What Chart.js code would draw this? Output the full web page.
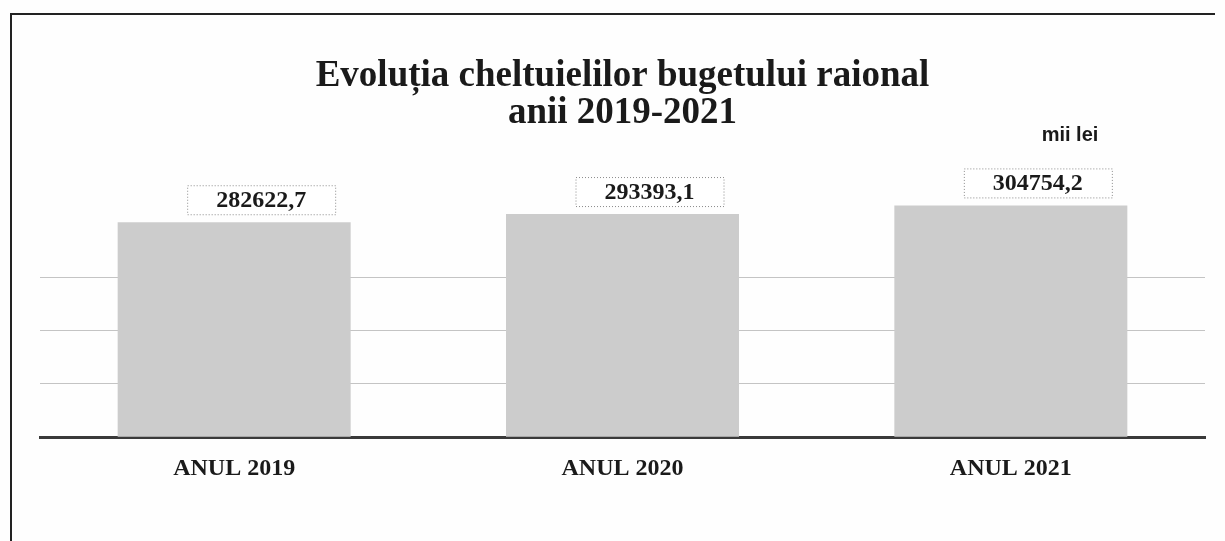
<!DOCTYPE html>
<html>
<head>
<meta charset="utf-8">
<title>Evoluția cheltuielilor bugetului raional</title>
<script src="https://cdn.jsdelivr.net/npm/chart.js@4/dist/chart.umd.min.js"></script>
<style>
    html, body { margin: 0; padding: 0; background: #fefefe; }
    #wrap { width: 1225px; height: 541px; position: relative; }
</style>
</head>
<body>
<div id="wrap"><canvas id="budgetChart" width="1225" height="541"></canvas></div>
<script>
// data (mii lei)
const categories = ['ANUL 2019', 'ANUL 2020', 'ANUL 2021'];
const expenses = [282622.7, 293393.1, 304754.2];
const titleLines = ['Evoluția cheltuielilor bugetului raional', 'anii 2019-2021'];
const unitLabel = 'mii lei';
const yMax = 350000;
const yStep = 70000;

function formatValue(v) {
    return v.toFixed(1).replace('.', ',');
}

// boxed value labels above the bars + page frame + unit note
const decorPlugin = {
    id: 'decor',
    afterDatasetsDraw(chart) {
        const ctx = chart.ctx;
        const meta = chart.getDatasetMeta(0);
        ctx.save();
        ctx.font = 'bold 24px "Liberation Serif", "Times New Roman", serif';
        ctx.textAlign = 'center';
        ctx.textBaseline = 'middle';
        meta.data.forEach((bar, i) => {
            const text = formatValue(expenses[i]);
            const w = ctx.measureText(text).width + 58;
            const h = 29;
            const cx = bar.x + 27;
            const bottom = bar.y - 8;
            ctx.fillStyle = '#ffffff';
            ctx.fillRect(cx - w / 2, bottom - h, w, h);
            ctx.setLineDash([1, 2]);
            ctx.strokeStyle = '#8a8a8a';
            ctx.lineWidth = 1;
            ctx.strokeRect(cx - w / 2 + 0.5, bottom - h + 0.5, w, h);
            ctx.setLineDash([]);
            ctx.fillStyle = '#1a1a1a';
            ctx.fillText(text, cx, bottom - h / 2 + 1);
        });
        ctx.restore();
    },
    afterDraw(chart) {
        const ctx = chart.ctx;
        ctx.save();
        ctx.font = 'bold 20px "Liberation Sans Narrow", "Liberation Sans", Arial, sans-serif';
        ctx.fillStyle = '#1a1a1a';
        ctx.textAlign = 'center';
        ctx.textBaseline = 'middle';
        ctx.fillText(unitLabel, 1070, 135);
        ctx.strokeStyle = '#222222';
        ctx.lineWidth = 2;
        ctx.beginPath();
        ctx.moveTo(1215, 14);
        ctx.lineTo(11, 14);
        ctx.lineTo(11, 541);
        ctx.stroke();
        ctx.restore();
    }
};

const ctx = document.getElementById('budgetChart').getContext('2d');
new Chart(ctx, {
    type: 'bar',
    data: {
        labels: categories,
        datasets: [{
            label: 'Cheltuieli',
            data: expenses,
            backgroundColor: '#cccccc',
            borderWidth: 0,
            barPercentage: 0.6,
            categoryPercentage: 1
        }]
    },
    options: {
        responsive: false,
        animation: false,
        devicePixelRatio: 1,
        layout: {
            padding: { left: 40, right: 20, top: 0, bottom: 41 }
        },
        plugins: {
            legend: { display: false },
            tooltip: { enabled: false },
            title: {
                display: true,
                text: titleLines,
                color: '#1a1a1a',
                font: { family: '"Liberation Serif", "Times New Roman", serif', size: 37, weight: 'bold', lineHeight: 1.0 },
                padding: { top: 58, bottom: 39 }
            }
        },
        scales: {
            x: {
                grid: { display: false, drawTicks: false },
                border: { display: true, color: '#3a3a3a', width: 3 },
                ticks: {
                    color: '#1a1a1a',
                    padding: 17,
                    font: { family: '"Liberation Serif", "Times New Roman", serif', size: 24, weight: 'bold' }
                }
            },
            y: {
                min: 0,
                max: yMax,
                ticks: { display: false, stepSize: yStep },
                border: { display: false },
                grid: {
                    drawTicks: false,
                    color: c => (c.tick && c.tick.value > 0 && c.tick.value <= 210000) ? '#c4c4c4' : 'rgba(0,0,0,0)'
                }
            }
        }
    },
    plugins: [decorPlugin]
});
</script>
</body>
</html>
